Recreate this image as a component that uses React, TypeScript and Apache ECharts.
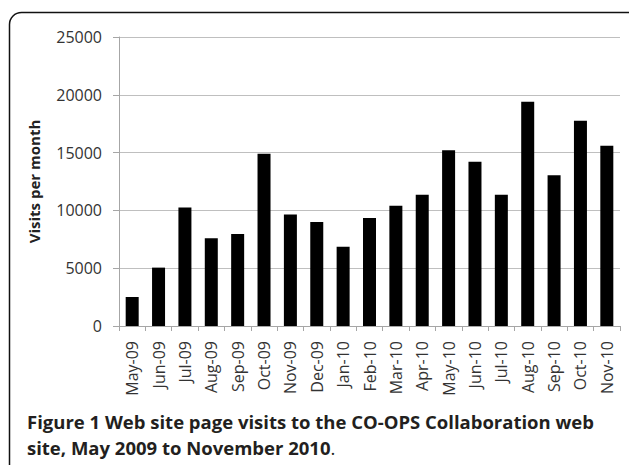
import React, { useEffect, useRef } from "react";
import * as echarts from "echarts";

const categories = [
  "May-09", "Jun-09", "Jul-09", "Aug-09", "Sep-09", "Oct-09", "Nov-09", "Dec-09",
  "Jan-10", "Feb-10", "Mar-10", "Apr-10", "May-10", "Jun-10", "Jul-10", "Aug-10",
  "Sep-10", "Oct-10", "Nov-10",
];
const visits = [
  2500, 5050, 10250, 7600, 7950, 14900, 9650, 9000,
  6850, 9350, 10400, 11350, 15200, 14200, 11350, 19400,
  13050, 17750, 15600,
];
const yTicks = [0, 5000, 10000, 15000, 20000, 25000];
const yTitle = "Visits per month";
const captionLine1 = "Figure 1 Web site page visits to the CO-OPS Collaboration web";
const captionLine2 = "site, May 2009 to November 2010";

export default function App() {
  const ref = useRef<HTMLDivElement>(null);
  useEffect(() => {
    if (!ref.current) return;
    const chart = echarts.init(ref.current, null, { renderer: "svg" });
    const font = "'Open Sans', 'Noto Sans', sans-serif";
    chart.setOption({
      animation: false,
      backgroundColor: "#ffffff",
      grid: { left: 119, right: 9, top: 37, bottom: 139, containLabel: false },
      xAxis: {
        type: "category",
        data: categories,
        boundaryGap: true,
        axisLine: { show: true, lineStyle: { color: "#a6a6a6", width: 1 } },
        axisTick: { show: true, length: 5, alignWithLabel: false, lineStyle: { color: "#a6a6a6" } },
        axisLabel: {
          rotate: 90,
          interval: 0,
          margin: 15,
          fontFamily: font,
          fontSize: 16,
          color: "#333333",
        },
        splitLine: { show: false },
      },
      yAxis: {
        type: "value",
        min: yTicks[0],
        max: yTicks[yTicks.length - 1],
        interval: 5000,
        name: yTitle,
        nameLocation: "middle",
        nameGap: 78,
        nameRotate: 90,
        nameTextStyle: { fontFamily: font, fontSize: 15, fontWeight: "bold", color: "#222222" },
        axisLine: { show: true, lineStyle: { color: "#a6a6a6", width: 1 } },
        axisTick: { show: true, length: 6, lineStyle: { color: "#a6a6a6" } },
        axisLabel: {
          margin: 17,
          fontFamily: font,
          fontSize: 16,
          color: "#333333",
          formatter: (v: number) => String(v),
        },
        splitLine: { show: true, lineStyle: { color: "#bfbfbf", width: 1 } },
      },
      series: [
        {
          type: "bar",
          data: visits,
          barWidth: 13,
          itemStyle: { color: "#000000" },
        },
      ],
      graphic: [
        {
          type: "rect",
          shape: { x: 9.5, y: 12.5, width: 630, height: 470, r: 12 },
          style: { fill: "none", stroke: "#111111", lineWidth: 1.5 },
          silent: true,
        },
        {
          type: "text",
          x: 27,
          y: 421.5,
          style: {
            text: captionLine1,
            fontFamily: font,
            fontSize: 18.5,
            fontWeight: "bold",
            fill: "#231f20",
            verticalAlign: "middle",
          },
        },
        {
          type: "text",
          x: 27,
          y: 447.5,
          style: {
            text: "{b|" + captionLine2 + "}{n|.}",
            verticalAlign: "middle",
            rich: {
              b: { fontFamily: font, fontSize: 18.5, fontWeight: "bold", fill: "#231f20", color: "#231f20" },
              n: { fontFamily: font, fontSize: 18.5, fontWeight: "normal", fill: "#231f20", color: "#231f20" },
            },
          },
        },
      ],
    });
    return () => chart.dispose();
  }, []);
  return (
    <div
      ref={ref}
      style={{ position: "absolute", left: 0, top: 0, width: 629, height: 465 }}
    />
  );
}
